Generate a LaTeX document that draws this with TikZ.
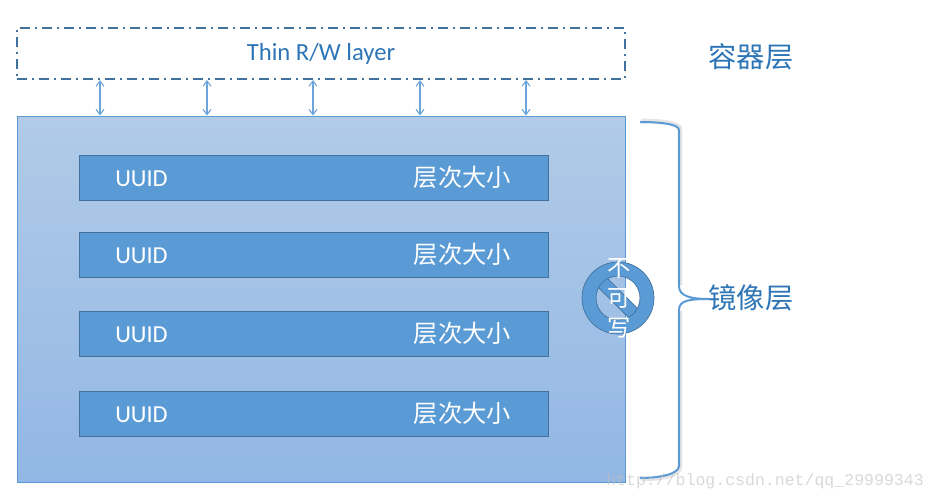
\documentclass[tikz,border=0pt]{standalone}
\usepackage{xcolor}
\usepackage{fontspec}
\usepackage{tikz}
\usetikzlibrary{arrows.meta}
\setmainfont{Carlito}
\newfontfamily\cjk{Noto Sans CJK SC}
\setmonofont{Liberation Mono}
\definecolor{rowblue}{HTML}{5B9BD5}
\definecolor{rowedge}{HTML}{41719C}
\definecolor{labelblue}{HTML}{2E75B6}
\definecolor{imgtop}{HTML}{B1CBE8}
\definecolor{imgbottom}{HTML}{92B7E4}
\tikzset{
  rowbox/.style={draw=rowedge, fill=rowblue, line width=0.75pt, inner sep=0pt, minimum width=351.75pt, minimum height=33.75pt},
  rowtext/.style={text=white, inner sep=0pt, font=\fontsize{18.3}{20}\selectfont},
  sidetext/.style={text=labelblue, inner sep=0pt, font=\fontsize{21.2}{24}\selectfont\cjk},
  linkarrow/.style={{Straight Barb[length=4pt,width=6pt]}-{Straight Barb[length=4pt,width=6pt]}, draw=rowblue!90, line width=0.8pt},
  bracket/.style={draw=rowblue, line width=1.5pt},
  bracketshade/.style={draw=black!25, line width=3.5pt, opacity=0.4, line join=round}
}
\begin{document}
\begin{tikzpicture}[x=0.75pt, y=-0.75pt]
  \useasboundingbox (0,0) rectangle (936,501);
  % top layer
  \node[draw=rowedge, line width=1.5pt, dash pattern=on 7.5pt off 3.5pt on 2pt off 3.5pt, inner sep=0pt, minimum width=456pt, minimum height=38.25pt, text=labelblue, font=\fontsize{18.5}{20}\selectfont] (thinlayer) at (321,53.5) {\raisebox{-2pt}{Thin R/W layer}};
  \node[sidetext] (rwlabel) at (751,57) {容器层};
  % image layers
  \node[draw=rowblue, line width=0.75pt, top color=imgtop, bottom color=imgbottom, inner sep=0pt, minimum width=456pt, minimum height=274.5pt] (imagelayer) at (321,299) {};
  \coordinate (linka) at (100,100);
  \coordinate (linkb) at (207,100);
  \coordinate (linkc) at (313,100);
  \coordinate (linkd) at (420,100);
  \coordinate (linke) at (526,100);
  \draw[linkarrow] (thinlayer.south -| linka) -- (imagelayer.north -| linka);
  \draw[linkarrow] (thinlayer.south -| linkb) -- (imagelayer.north -| linkb);
  \draw[linkarrow] (thinlayer.south -| linkc) -- (imagelayer.north -| linkc);
  \draw[linkarrow] (thinlayer.south -| linkd) -- (imagelayer.north -| linkd);
  \draw[linkarrow] (thinlayer.south -| linke) -- (imagelayer.north -| linke);
  \node[rowbox] (rowa) at (313.5,177.5) {};
  \node[rowbox] (rowb) at (313.5,254.5) {};
  \node[rowbox] (rowc) at (313.5,333.5) {};
  \node[rowbox] (rowd) at (313.5,413.5) {};
  \node[rowtext] (uuida) at (141.5,178.5) {UUID};
  \node[rowtext] (uuidb) at (141.5,255.5) {UUID};
  \node[rowtext] (uuidc) at (141.5,334.5) {UUID};
  \node[rowtext] (uuidd) at (141.5,414.5) {UUID};
  \node[rowtext, font=\fontsize{18.2}{20}\selectfont\cjk] (sizea) at (462.5,177) {层次大小};
  \node[rowtext, font=\fontsize{18.2}{20}\selectfont\cjk] (sizeb) at (462.5,254) {层次大小};
  \node[rowtext, font=\fontsize{18.2}{20}\selectfont\cjk] (sizec) at (462.5,333) {层次大小};
  \node[rowtext, font=\fontsize{18.2}{20}\selectfont\cjk] (sized) at (462.5,413) {层次大小};
  % no-write sign
  \filldraw[fill=rowblue, draw=rowedge, line width=0.5pt] (602.1,272.9) -- (643.1,313.9) -- (633.9,323.1) -- (592.9,282.1) -- cycle;
  \filldraw[fill=rowblue, draw=rowedge, line width=0.5pt, even odd rule] (618,298) circle[radius=36] (618,298) circle[radius=22];
  \node[rowtext, font=\fontsize{17.5}{22.5}\selectfont\cjk, align=center] (nowrite) at (619.5,298) {不\\可\\写};
  % bracket
  \draw[bracketshade, shift={(1,-1)}] (640,122) .. controls (660,122) and (679,124) .. (679,130) -- (679,286);
  \draw[bracketshade, shift={(1,1)}] (679,310) -- (679,466) .. controls (679,474) and (660,478) .. (640,478);
  \draw[bracket] (640,122) .. controls (660,122) and (679,124) .. (679,130) -- (679,286) .. controls (679,296) and (690,299) .. (710,299) .. controls (690,299) and (679,300) .. (679,310) -- (679,466) .. controls (679,474) and (660,478) .. (640,478);
  \node[sidetext] (imglabel) at (751,298) {镜像层};
  % watermark
  \node[text=black!25, opacity=0.6, inner sep=0pt, font=\fontsize{12.4}{14}\selectfont\ttfamily] (stamp) at (765,481) {http://blog.csdn.net/qq\_29999343};
\end{tikzpicture}
\end{document}
